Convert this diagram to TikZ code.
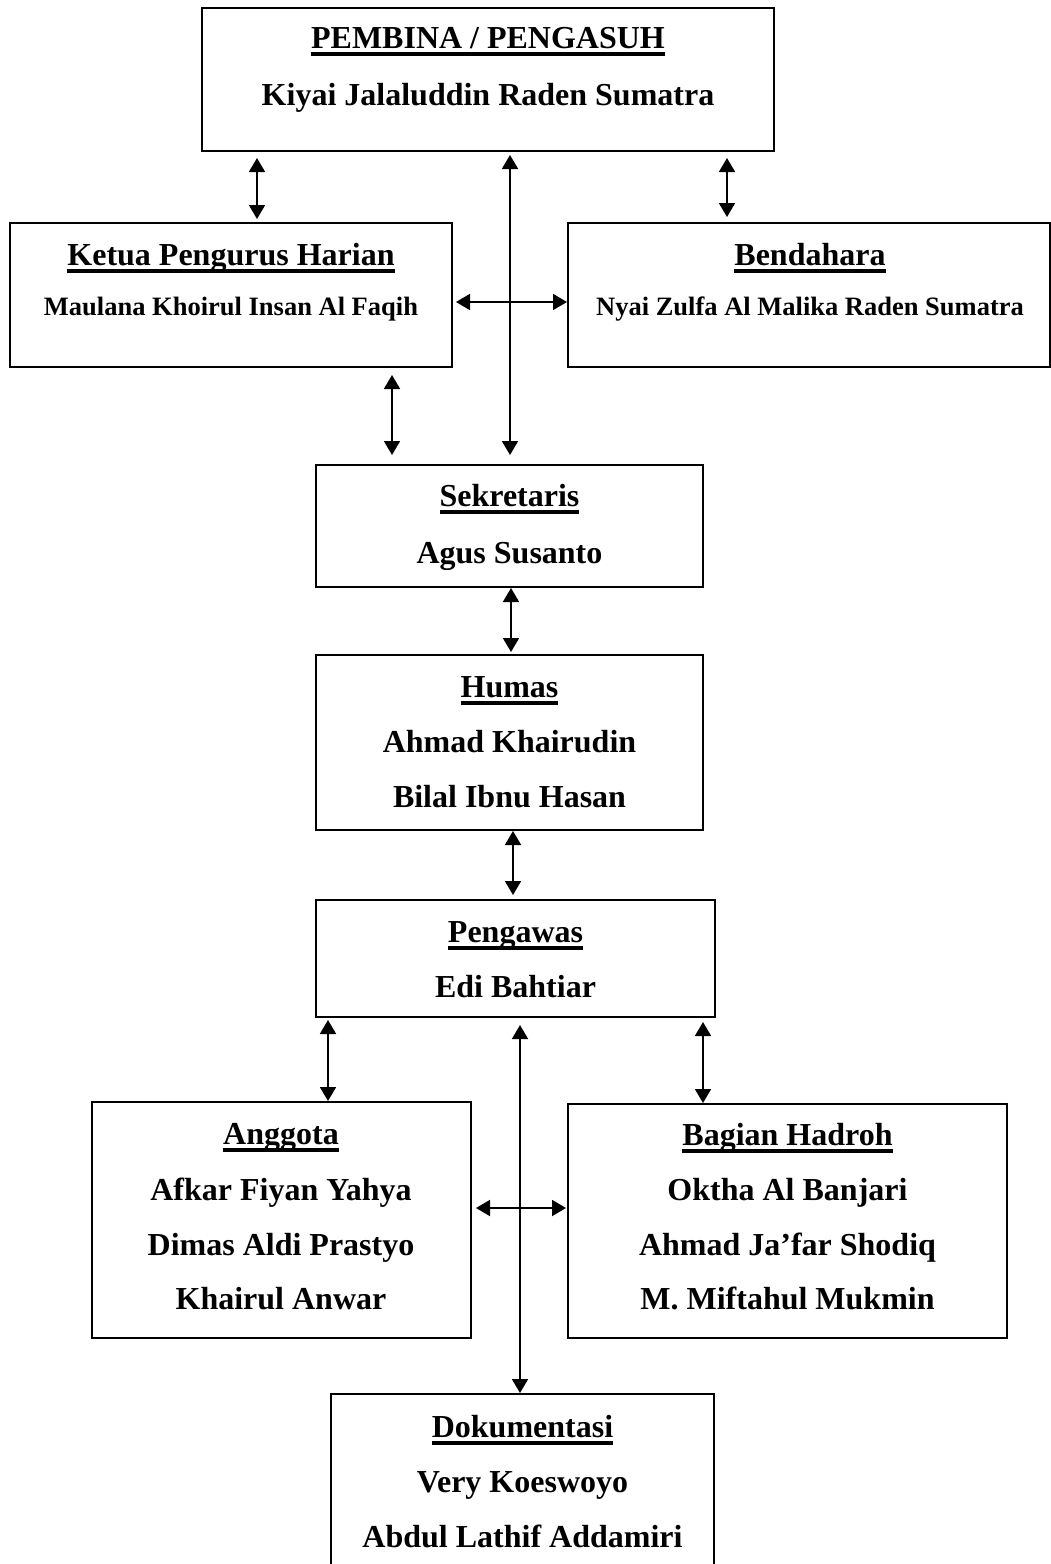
\documentclass[tikz,border=0pt]{standalone}
\usepackage{fontspec}
\setmainfont{Liberation Serif}
\usetikzlibrary{arrows.meta}
\newcommand{\myul}[1]{\setbox0\hbox{#1}\rlap{\rule[-7.5pt]{\wd0}{3.4pt}}\box0}
\begin{document}
\begin{tikzpicture}[x=1pt,y=-1pt,
  box/.style={draw, line width=2.5pt, inner sep=0pt, outer sep=0pt},
  big/.style={font=\bfseries\fontsize{32}{38}\selectfont, inner sep=0pt, anchor=base},
  small/.style={font=\bfseries\fontsize{26.5}{32}\selectfont, inner sep=0pt, anchor=base},
  link/.style={line width=1.8pt, {Triangle[length=14pt,width=16pt]}-{Triangle[length=14pt,width=16pt]}}]
\clip (0,0) rectangle (1051,1564);
\fill[white] (0,0) rectangle (1051,1564);
% boxes
\node[box, minimum width=572pt, minimum height=143pt] (pembina) at (488,79.5) {};
\node[box, minimum width=442pt, minimum height=144pt] (ketua) at (231,295) {};
\node[box, minimum width=482pt, minimum height=144pt] (bendahara) at (809,295) {};
\node[box, minimum width=387pt, minimum height=122pt] (sekretaris) at (509.5,526) {};
\node[box, minimum width=387pt, minimum height=175pt] (humas) at (509.5,742.5) {};
\node[box, minimum width=399pt, minimum height=117pt] (pengawas) at (515.5,958.5) {};
\node[box, minimum width=379pt, minimum height=236pt] (anggota) at (281.5,1220) {};
\node[box, minimum width=439pt, minimum height=234pt] (hadroh) at (787.5,1221) {};
\node[box, minimum width=383pt, minimum height=210pt] (dok) at (522.5,1499) {};
% texts
\node[big] (pembinaT) at (488,48) {\myul{PEMBINA / PENGASUH}};
\node[big] (pembinaN) at (488,105) {Kiyai Jalaluddin Raden Sumatra};
\node[big] (ketuaT) at (231,265) {\myul{Ketua Pengurus Harian}};
\node[small] (ketuaN) at (231,315) {Maulana Khoirul Insan Al Faqih};
\node[big] (bendT) at (810,265) {\myul{Bendahara}};
\node[small] (bendN) at (810,315) {Nyai Zulfa Al Malika Raden Sumatra};
\node[big] (sekT) at (509.5,506) {\myul{Sekretaris}};
\node[big] (sekN) at (509.5,563) {Agus Susanto};
\node[big] (humT) at (509.5,697) {\myul{Humas}};
\node[big] (humA) at (509.5,752) {Ahmad Khairudin};
\node[big] (humB) at (509.5,807) {Bilal Ibnu Hasan};
\node[big] (pengT) at (515.5,942) {\myul{Pengawas}};
\node[big] (pengN) at (515.5,997) {Edi Bahtiar};
\node[big] (angT) at (281,1144) {\myul{Anggota}};
\node[big] (angA) at (281,1200) {Afkar Fiyan Yahya};
\node[big] (angB) at (281,1255) {Dimas Aldi Prastyo};
\node[big] (angC) at (281,1309) {Khairul Anwar};
\node[big] (hadT) at (787.5,1145) {\myul{Bagian Hadroh}};
\node[big] (hadA) at (787.5,1200) {Oktha Al Banjari};
\node[big] (hadB) at (787.5,1255) {Ahmad Ja’far Shodiq};
\node[big] (hadC) at (787.5,1309) {M. Miftahul Mukmin};
\node[big] (dokT) at (522.5,1437) {\myul{Dokumentasi}};
\node[big] (dokA) at (522.5,1492) {Very Koeswoyo};
\node[big] (dokB) at (522.5,1547) {Abdul Lathif Addamiri};
% guide coordinates
\coordinate (xa) at (257,0);
\coordinate (xb) at (727,0);
\coordinate (xc) at (510,0);
\coordinate (xd) at (392,0);
\coordinate (xe) at (511,0);
\coordinate (xf) at (513,0);
\coordinate (xg) at (328,0);
\coordinate (xh) at (703,0);
\coordinate (xi) at (520,0);
\coordinate (ya) at (0,302);
\coordinate (yb) at (0,1208);
% connectors
\draw[link, shorten <=7pt, shorten >=4pt] (pembina.south -| xa) -- (ketua.north -| xa);
\draw[link, shorten <=7pt, shorten >=6pt] (pembina.south -| xb) -- (bendahara.north -| xb);
\draw[link, shorten <=4pt, shorten >=10pt] (pembina.south -| xc) -- (sekretaris.north -| xc);
\draw[link, shorten <=4pt, shorten >=1pt] (ketua.east |- ya) -- (bendahara.west |- ya);
\draw[link, shorten <=8pt, shorten >=10pt] (ketua.south -| xd) -- (sekretaris.north -| xd);
\draw[link, shorten <=1pt, shorten >=3pt] (sekretaris.south -| xe) -- (humas.north -| xe);
\draw[link, shorten <=1pt, shorten >=5pt] (humas.south -| xf) -- (pengawas.north -| xf);
\draw[link, shorten <=3pt, shorten >=1pt] (pengawas.south -| xg) -- (anggota.north -| xg);
\draw[link, shorten <=5pt, shorten >=1pt] (pengawas.south -| xh) -- (hadroh.north -| xh);
\draw[link, shorten <=8pt, shorten >=1pt] (pengawas.south -| xi) -- (dok.north -| xi);
\draw[link, shorten <=5pt, shorten >=2pt] (anggota.east |- yb) -- (hadroh.west |- yb);
\end{tikzpicture}
\end{document}
